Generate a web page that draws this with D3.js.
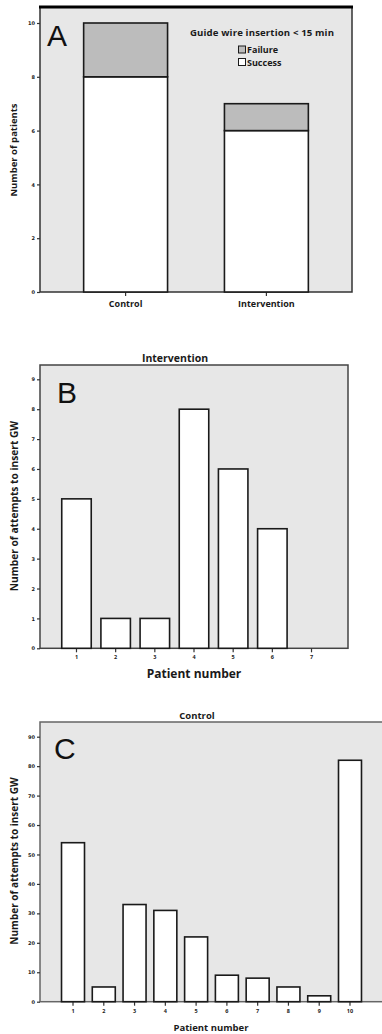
<!DOCTYPE html>
<html lang="en">
<head>
    <meta charset="UTF-8" />
    <title>Guide wire insertion</title>
    <script src="https://d3js.org/d3.v7.min.js"></script>
    <style>
        body { margin: 0; background: #fff; }
        svg { display: block; }
        text { font-family: "Open Sans", "DejaVu Sans", sans-serif; font-weight: bold; fill: #1a1a1a; }
        .letter { font-family: "Liberation Sans", Arial, sans-serif; font-weight: normal; fill: #111; }
        .tick line { stroke: #333; stroke-width: 1.2; }
    </style>
</head>
<body>
<svg width="382" height="1034"></svg>
<script>
    // Panel A: guide wire insertion < 15 min
    const groups = ["Control", "Intervention"];
    const successCounts = [8, 6];
    const failureCounts = [2, 1];
    const patientsTicks = [0, 2, 4, 6, 8, 10];

    // Panel B: intervention group
    const interventionPatients = ["1", "2", "3", "4", "5", "6", "7"];
    const interventionAttempts = [5, 1, 1, 8, 6, 4, 0];
    const interventionTicks = [0, 1, 2, 3, 4, 5, 6, 7, 8, 9];

    // Panel C: control group
    const controlPatients = ["1", "2", "3", "4", "5", "6", "7", "8", "9", "10"];
    const controlAttempts = [54, 5, 33, 31, 22, 9, 8, 5, 2, 82];
    const controlTicks = [0, 10, 20, 30, 40, 50, 60, 70, 80, 90];

    const svg = d3.select("svg");
    const plotBg = "#e7e7e7";
    const failFill = "#bcbcbc";

    // draws frame, axes and labels of one panel, returns the scales
    function panel(o) {
        const g = svg.append("g");
        const x = d3.scaleBand()
            .domain(o.cats)
            .range([o.left, o.right])
            .paddingInner(o.pin)
            .paddingOuter(o.pout);
        const y = d3.scaleLinear()
            .domain([0, o.yMax])
            .range([o.bottom, o.yMaxPos]);

        g.append("rect")
            .attr("x", o.left).attr("y", o.top)
            .attr("width", o.right - o.left).attr("height", o.bottom - o.top)
            .attr("fill", plotBg)
            .attr("stroke", o.frame).attr("stroke-width", 1.5);
        if (o.topLine) {
            g.append("line")
                .attr("x1", o.left - 1).attr("x2", o.right + 1)
                .attr("y1", o.top).attr("y2", o.top)
                .attr("stroke", "#000").attr("stroke-width", 3);
        }

        const ya = g.append("g")
            .attr("transform", `translate(${o.left},0)`)
            .call(d3.axisLeft(y).tickValues(o.ticks).tickSize(3).tickPadding(2));
        ya.select(".domain").remove();
        ya.selectAll("text").attr("font-size", o.yTickSize).style("font-family", "DejaVu Sans");

        const xa = g.append("g")
            .attr("transform", `translate(0,${o.bottom})`)
            .call(d3.axisBottom(x).tickSize(4).tickPadding(o.xTickPad));
        xa.select(".domain").remove();
        xa.selectAll("text").attr("font-size", o.xTickSize);

        g.append("text")
            .attr("transform", `translate(${o.yLabelX},${o.yLabelY}) rotate(-90)`)
            .attr("text-anchor", "middle")
            .attr("font-size", o.yLabelSize)
            .text(o.yLabel);

        if (o.xLabel) {
            g.append("text")
                .attr("x", o.xLabelX).attr("y", o.xLabelY)
                .attr("text-anchor", "middle")
                .attr("font-size", o.xLabelSize)
                .text(o.xLabel);
        }
        if (o.title) {
            g.append("text")
                .attr("x", o.titleX).attr("y", o.titleY)
                .attr("text-anchor", "middle")
                .attr("font-size", o.titleSize)
                .text(o.title);
        }
        g.append("text")
            .attr("class", "letter")
            .attr("x", o.letterX).attr("y", o.letterY)
            .attr("font-size", 30)
            .text(o.letter);

        return { g, x, y };
    }

    // ---- A ----
    const a = panel({
        cats: groups, left: 40, right: 352, top: 7, bottom: 292,
        pin: 0.404, pout: 0.31, yMax: 10, yMaxPos: 23, ticks: patientsTicks,
        frame: "#333", topLine: true, yTickSize: 5, xTickSize: 9, xTickPad: 5,
        yLabel: "Number of patients", yLabelX: 17, yLabelY: 150, yLabelSize: 9.5,
        letter: "A", letterX: 47, letterY: 46
    });
    const aData = groups.map((c, i) => ({ c, s: successCounts[i], f: failureCounts[i] }));
    a.g.selectAll(".succ").data(aData).enter().append("rect")
        .attr("x", d => a.x(d.c)).attr("width", a.x.bandwidth())
        .attr("y", d => a.y(d.s)).attr("height", d => a.y(0) - a.y(d.s))
        .attr("fill", "#fff").attr("stroke", "#1a1a1a").attr("stroke-width", 1.6);
    a.g.selectAll(".fail").data(aData).enter().append("rect")
        .attr("x", d => a.x(d.c)).attr("width", a.x.bandwidth())
        .attr("y", d => a.y(d.s + d.f)).attr("height", d => a.y(d.s) - a.y(d.s + d.f))
        .attr("fill", failFill).attr("stroke", "#1a1a1a").attr("stroke-width", 1.6);

    // legend
    const leg = a.g.append("g");
    leg.append("text").attr("x", 262).attr("y", 36).attr("text-anchor", "middle")
        .attr("font-size", 9.6).attr("textLength", 144).text("Guide wire insertion < 15 min");
    [["Failure", failFill], ["Success", "#fff"]].forEach((d, i) => {
        leg.append("rect").attr("x", 238.5).attr("y", 46 + i * 12.5).attr("width", 7).attr("height", 7)
            .attr("fill", d[1]).attr("stroke", "#1a1a1a").attr("stroke-width", 1);
        leg.append("text").attr("x", 247).attr("y", 53 + i * 12.5)
            .attr("font-size", 9).text(d[0]);
    });

    // ---- B ----
    const b = panel({
        cats: interventionPatients, left: 40, right: 348, top: 365, bottom: 648.3,
        pin: 0.247, pout: 0.555, yMax: 9, yMaxPos: 379.3, ticks: interventionTicks,
        frame: "#444", yTickSize: 5, xTickSize: 5.5, xTickPad: 3,
        yLabel: "Number of attempts to insert GW", yLabelX: 18, yLabelY: 506, yLabelSize: 10.2,
        xLabel: "Patient number", xLabelX: 194, xLabelY: 678, xLabelSize: 12,
        title: "Intervention", titleX: 175, titleY: 362, titleSize: 10.5,
        letter: "B", letterX: 57, letterY: 403
    });
    b.g.selectAll(".bar").data(interventionAttempts).enter().append("rect")
        .attr("x", (d, i) => b.x(interventionPatients[i])).attr("width", b.x.bandwidth())
        .attr("y", d => b.y(d)).attr("height", d => b.y(0) - b.y(d))
        .attr("fill", "#fff").attr("stroke", "#1a1a1a").attr("stroke-width", 1.6);

    // ---- C ----
    const c = panel({
        cats: controlPatients, left: 40, right: 383, top: 722, bottom: 1001.7,
        pin: 0.253, pout: 0.699, yMax: 90, yMaxPos: 736.7, ticks: controlTicks,
        frame: "#666", yTickSize: 5, xTickSize: 5.5, xTickPad: 3,
        yLabel: "Number of attempts to insert GW", yLabelX: 18, yLabelY: 861, yLabelSize: 10,
        xLabel: "Patient number", xLabelX: 211, xLabelY: 1031, xLabelSize: 9.5,
        title: "Control", titleX: 197, titleY: 719, titleSize: 9.5,
        letter: "C", letterX: 54, letterY: 759
    });
    c.g.selectAll(".bar").data(controlAttempts).enter().append("rect")
        .attr("x", (d, i) => c.x(controlPatients[i])).attr("width", c.x.bandwidth())
        .attr("y", d => c.y(d)).attr("height", d => c.y(0) - c.y(d))
        .attr("fill", "#fff").attr("stroke", "#1a1a1a").attr("stroke-width", 1.6);
</script>
</body>
</html>
